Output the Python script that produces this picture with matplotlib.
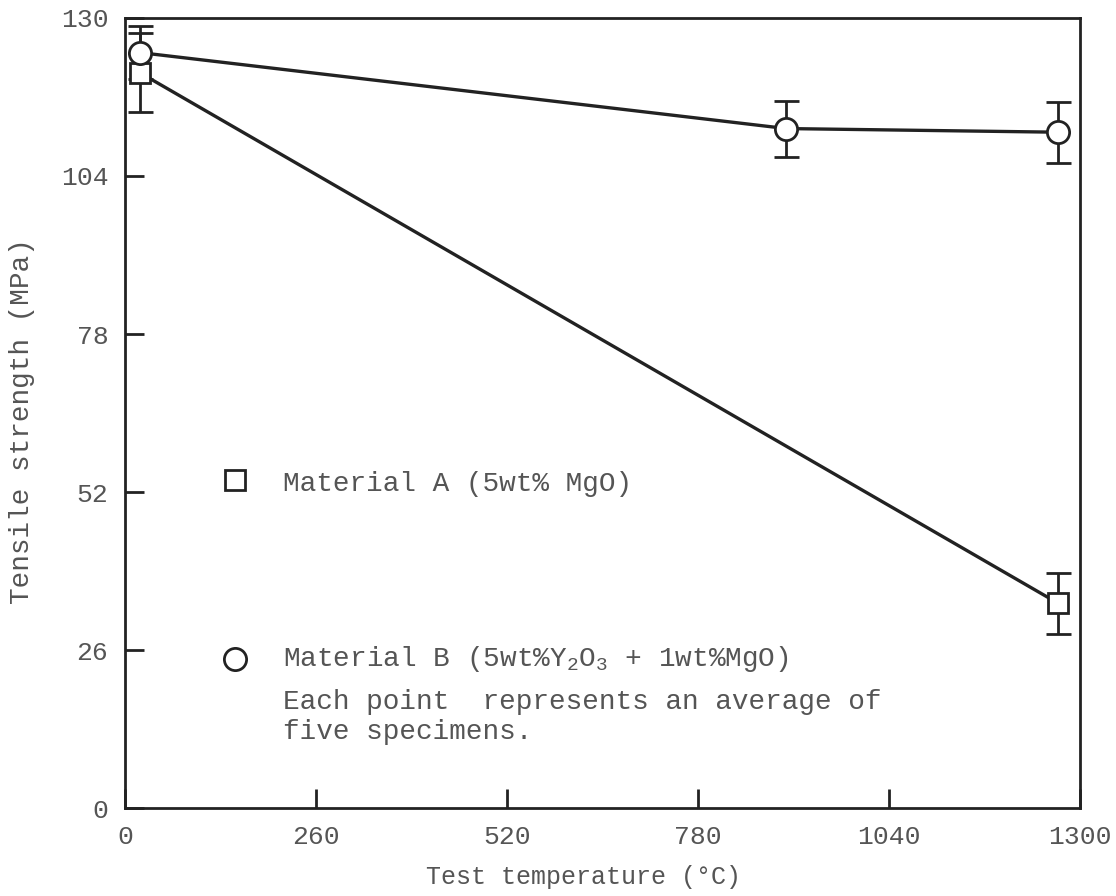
import numpy as np
import matplotlib.pyplot as plt

# values
temp_a = [20, 1270]
strength_a = [121.0, 33.7]
err_a = [6.5, 5.0]

temp_b = [20, 900, 1270]
strength_b = [124.3, 111.8, 111.2]
err_b = [4.3, 4.6, 5.0]

xticks = [0, 260, 520, 780, 1040, 1300]
yticks = [0, 26, 52, 78, 104, 130]

plt.rcParams['font.family'] = ['Liberation Mono', 'DejaVu Sans Mono']
plt.rcParams['mathtext.default'] = 'regular'
ink = '#222222'
txt = '#555555'

fig = plt.figure(figsize=(11.16, 8.96), dpi=100)
ax = fig.add_axes([0.112, 0.098, 0.856, 0.882])

ax.errorbar(temp_a, strength_a, yerr=err_a, color=ink, lw=2.4, marker='s',
            ms=15, mfc='white', mec=ink, mew=2, capsize=9, elinewidth=2,
            capthick=2, zorder=3)
ax.errorbar(temp_b, strength_b, yerr=err_b, color=ink, lw=2.4, marker='o',
            ms=16, mfc='white', mec=ink, mew=2, capsize=9, elinewidth=2,
            capthick=2, zorder=3)

ax.set_xlim(0, 1300)
ax.set_ylim(0, 130)
ax.set_xticks(xticks)
ax.set_yticks(yticks)
ax.tick_params(direction='in', length=14, width=2, color=ink,
               labelsize=19, labelcolor=txt, pad=12)
for s in ax.spines.values():
    s.set_linewidth(2)
    s.set_color(ink)

ax.set_xlabel('Test temperature (\u00b0C)', fontsize=18, color=txt)
ax.xaxis.set_label_coords(0.48, -0.072)
ax.set_ylabel('Tensile strength (MPa)', fontsize=20, color=txt)
ax.yaxis.set_label_coords(-0.094, 0.49)

# in-plot key and note
ax.plot([150], [54], marker='s', ms=15, mfc='white', mec=ink, mew=2, ls='none')
ax.text(215, 53.3, 'Material A (5wt% MgO)', fontsize=20, color=txt, va='center')
ax.plot([150], [24.6], marker='o', ms=16, mfc='white', mec=ink, mew=2, ls='none')
ax.text(215, 24.6, 'Material B (5wt%Y$_2$O$_3$ + 1wt%MgO)', fontsize=20,
        color=txt, va='center')
ax.text(215, 17.5, 'Each point  represents an average of', fontsize=20,
        color=txt, va='center')
ax.text(215, 12.5, 'five specimens.', fontsize=20, color=txt, va='center')

fig.savefig('out.png', dpi=100)
